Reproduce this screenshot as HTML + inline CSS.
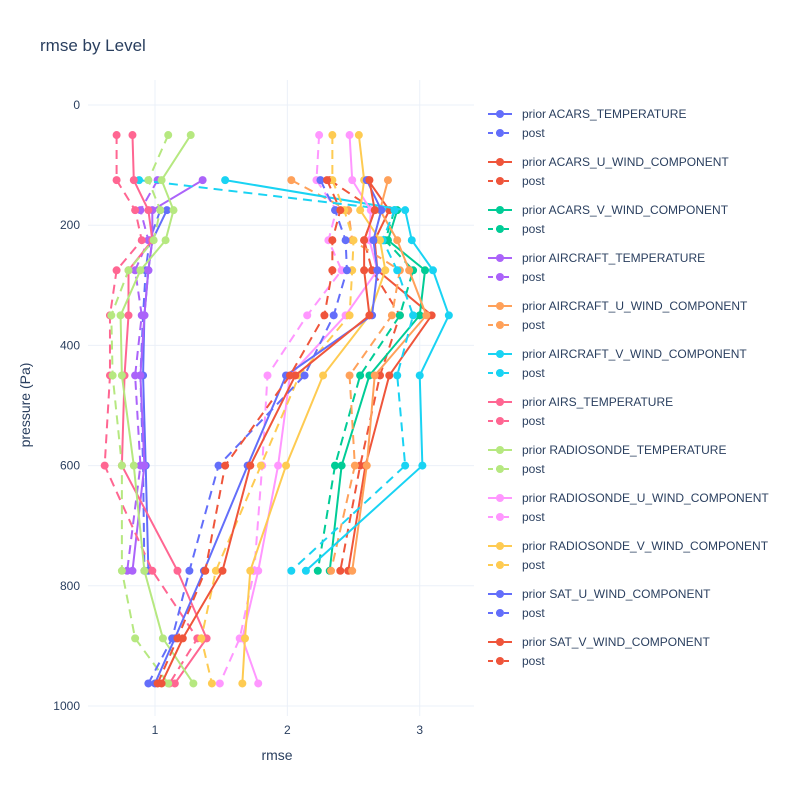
<!DOCTYPE html>
<html><head><meta charset="utf-8"><style>
body{margin:0;background:#fff;}
svg{display:block;font-family:"Liberation Sans",sans-serif;}
</style></head><body>
<svg id="chart" width="800" height="800" xmlns="http://www.w3.org/2000/svg">
<rect width="800" height="800" fill="#fff"/>
<text x="40" y="51" font-size="17" fill="#2a3f5f">rmse by Level</text>
<g id="grid"></g>
<g id="series"></g>
<g id="axes"></g>
<g id="legend"></g>
<text x="277" y="760" font-size="14" fill="#2a3f5f" text-anchor="middle">rmse</text>
<text transform="translate(30,405) rotate(-90)" font-size="14" fill="#2a3f5f" text-anchor="middle">pressure (Pa)</text>
</svg>
<script>
const levels=[50,125,175,225,275,350,450,600,775,887.5,962.5];
const xTicks=[1,2,3];
const yTicks=[0,200,400,600,800,1000];
const names=["ACARS_TEMPERATURE","ACARS_U_WIND_COMPONENT","ACARS_V_WIND_COMPONENT","AIRCRAFT_TEMPERATURE","AIRCRAFT_U_WIND_COMPONENT","AIRCRAFT_V_WIND_COMPONENT","AIRS_TEMPERATURE","RADIOSONDE_TEMPERATURE","RADIOSONDE_U_WIND_COMPONENT","RADIOSONDE_V_WIND_COMPONENT","SAT_U_WIND_COMPONENT","SAT_V_WIND_COMPONENT"];
const colors=["#636efa","#EF553B","#00cc96","#ab63fa","#FFA15A","#19d3f3","#FF6692","#B6E880","#FF97FF","#FECB52","#636efa","#EF553B"];
const N=null;
const prior=[
[N,N,1.09,0.98,0.95,0.92,0.91,0.93,0.95,N,N],
[N,2.61,2.77,2.66,2.68,3.09,2.77,2.59,2.46,N,N],
[N,N,2.83,2.76,3.04,3.0,2.62,2.41,2.32,N,N],
[N,1.36,0.98,0.98,0.95,0.92,0.89,0.92,0.83,N,N],
[N,2.76,2.70,2.83,2.92,3.05,2.66,2.60,2.49,N,N],
[N,1.53,2.89,2.94,3.10,3.22,3.0,3.02,2.14,N,N],
[0.83,0.84,0.95,0.98,0.80,0.80,0.77,0.75,1.17,1.39,1.15],
[1.27,1.05,1.14,1.08,0.89,0.74,0.75,0.84,0.92,1.06,1.29],
[2.47,2.49,2.63,2.62,2.68,2.44,2.02,1.93,1.78,1.66,1.78],
[2.54,2.58,2.55,2.70,2.74,2.62,2.27,1.99,1.72,1.68,1.66],
[N,2.60,2.71,2.65,2.68,2.64,1.99,1.70,1.37,1.15,1.0],
[N,2.62,2.66,2.58,2.58,2.62,2.06,1.72,1.51,1.21,1.05]];
const post=[
[N,N,1.04,0.96,0.93,0.91,0.89,0.91,0.92,N,N],
[N,2.32,2.66,2.58,2.64,2.85,2.70,2.55,2.40,N,N],
[N,N,2.81,2.74,2.95,2.85,2.55,2.36,2.23,N,N],
[N,1.02,0.89,0.95,0.85,0.90,0.85,0.89,0.79,N,N],
[N,2.03,2.46,2.49,2.85,2.79,2.47,2.51,2.33,N,N],
[N,0.88,2.81,2.72,2.83,2.95,2.83,2.89,2.03,N,N],
[0.71,0.71,0.85,0.90,0.71,0.66,0.66,0.62,0.98,1.32,1.11],
[1.10,0.95,1.04,0.99,0.80,0.67,0.68,0.75,0.75,0.85,1.10],
[2.24,2.22,2.37,2.31,2.41,2.15,1.85,1.81,1.75,1.64,1.49],
[2.34,2.34,2.43,2.50,2.49,2.47,2.09,1.80,1.46,1.35,1.43],
[N,2.25,2.36,2.44,2.45,2.35,2.13,1.48,1.26,1.13,0.95],
[N,2.30,2.40,2.34,2.34,2.28,2.02,1.53,1.38,1.17,1.02]];

const L=88,R=474,T=80,B=716;
const xMin=0.494,xMax=3.41;
const sx=v=>L+(v-xMin)/(xMax-xMin)*(R-L);
const sy=v=>105+v*0.601;
const NS="http://www.w3.org/2000/svg";
function mk(tag,attrs,parent){const e=document.createElementNS(NS,tag);for(const k in attrs)e.setAttribute(k,attrs[k]);parent.appendChild(e);return e;}
const grid=document.getElementById('grid'),axes=document.getElementById('axes'),ser=document.getElementById('series'),leg=document.getElementById('legend');
xTicks.forEach(t=>{
 const l=mk('line',{x1:sx(t),x2:sx(t),y1:T,y2:B,stroke:'#ebf0f8','stroke-width':1},grid);
 
 
 const tx=mk('text',{x:sx(t),y:B+18,'font-size':12,fill:'#2a3f5f','text-anchor':'middle'},axes);
 tx.textContent=t;
 
 
});
yTicks.forEach(t=>{
 const l=mk('line',{x1:L,x2:R,y1:sy(t),y2:sy(t),stroke:'#ebf0f8','stroke-width':1},grid);
 
 
 const tx=mk('text',{x:L-8,y:sy(t)+4,'font-size':12,fill:'#2a3f5f','text-anchor':'end'},axes);
 tx.textContent=t;
 
 
});
function drawTrace(vals,color,dash,name){
 const g=mk('g',{},ser);
 
 
 const pts=[];
 vals.forEach((v,i)=>{if(v!==null)pts.push([sx(v),sy(levels[i])]);});
 const p=mk('polyline',{points:pts.map(p=>p.join(',')).join(' '),fill:'none',stroke:color,'stroke-width':2},g);
 if(dash)p.setAttribute('stroke-dasharray','9,6');
 pts.forEach(q=>{
  const c=mk('circle',{cx:q[0],cy:q[1],r:4,fill:color},g);
  
  
 });
}
names.forEach((n,i)=>{
 drawTrace(prior[i],colors[i],false,'prior-'+n.toLowerCase().replace(/_/g,'-'));
 drawTrace(post[i],colors[i],true,'post-'+n.toLowerCase().replace(/_/g,'-'));
});
names.forEach((n,i)=>{
 [0,1].forEach(k=>{
  const y=114+i*48+k*19;
  const g=mk('g',{},leg);
  
  
  const l=mk('line',{x1:488,x2:512,y1:y,y2:y,stroke:colors[i],'stroke-width':2},g);
  if(k)l.setAttribute('stroke-dasharray','5,3');
  mk('circle',{cx:500,cy:y,r:4,fill:colors[i]},g);
  const t=mk('text',{x:522,y:y+4,'font-size':12,fill:'#2a3f5f'},g);
  t.textContent=k?'post':'prior '+n;
 });
});
</script>
</body></html>
